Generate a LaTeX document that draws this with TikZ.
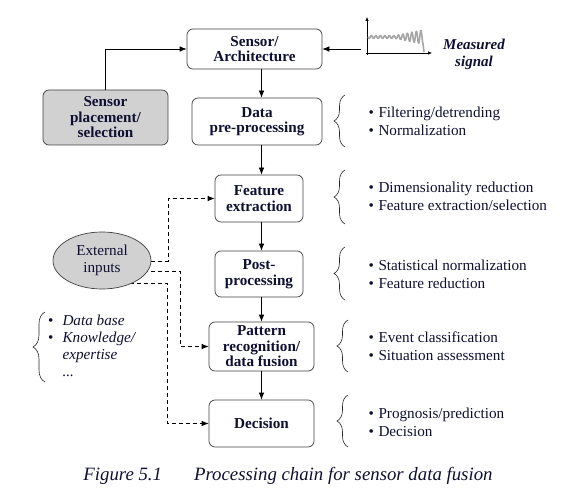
\documentclass[tikz,border=0pt]{standalone}
\usepackage{fontspec}
\setmainfont{Liberation Serif}
\usetikzlibrary{arrows.meta,decorations.pathreplacing,shapes.geometric,backgrounds}
\definecolor{ink}{rgb}{0.06,0.06,0.2}
\definecolor{boxgray}{rgb}{0.82,0.82,0.82}
\begin{document}
\begin{tikzpicture}[x=1pt,y=-1pt,
  box/.style={draw=black!75, line width=0.7pt, rounded corners=6pt, align=center,
    font=\fontsize{15.2}{15.5}\selectfont\bfseries, text=ink, inner sep=0pt},
  graybox/.style={box, fill=boxgray},
  arr/.style={-{Latex[length=7pt,width=5.5pt]}, line width=0.7pt},
  darr/.style={-{Latex[length=7pt,width=5.5pt]}, line width=0.7pt, dash pattern=on 4pt off 3pt},
  brc/.style={decorate, decoration={brace, amplitude=11pt}, line width=0.6pt, black!85},
  lst/.style={anchor=base west, inner sep=0pt, text=ink, font=\fontsize{15.2}{18}\selectfont},
  axis/.style={-{Latex[length=4pt,width=3.5pt]}, line width=0.6pt}
]
\useasboundingbox (0,0) rectangle (584,492);

% main chain
\node[box, minimum width=135pt, minimum height=40pt] (sa) at (254.5,49) {Sensor/\\Architecture};
\node[box, minimum width=130pt, minimum height=47pt] (dp) at (257,121.5) {Data\\pre-processing};
\node[box, minimum width=88pt, minimum height=47pt] (fe) at (259,198.5) {Feature\\extraction};
\node[box, minimum width=88pt, minimum height=46pt] (pp) at (259,274) {Post-\\processing};
\node[box, minimum width=105pt, minimum height=49pt] (pr) at (261.5,346.5) {Pattern\\recognition/\\data fusion};
\node[box, minimum width=105pt, minimum height=47pt] (dec) at (261.5,423.5) {Decision};

\node[graybox, minimum width=125pt, minimum height=55pt] (sp) at (105.5,117.5) {Sensor\\placement/\\selection};
\node[ellipse, draw=black!75, line width=0.7pt, fill=boxgray, minimum width=98pt, minimum height=57pt,
  inner sep=0pt, align=center, text=ink, font=\fontsize{15.2}{17}\selectfont] (ei) at (102,260.5) {External\\inputs};

\coordinate (ax) at (261.5,0);
\draw[arr] (sa.south -| ax) -- (dp.north -| ax);
\draw[arr] (dp.south -| ax) -- (fe.north -| ax);
\draw[arr] (fe.south -| ax) -- (pp.north -| ax);
\draw[arr] (pp.south -| ax) -- (pr.north -| ax);
\draw[arr] (pr.south -| ax) -- (dec.north -| ax);

\draw[arr] (sp.north) |- (sa.west);

% measured signal
\coordinate (sig) at (361,49);
\draw[arr] (sig) -- (sa.east);
\draw[axis] (367,55) -- (367,17);
\draw[axis] (366,53) -- (432,53);
\draw[gray!70, line width=1.6pt, line join=round]
  plot[domain=0:55, samples=220] ({368+\x},{37+(1.4+max(0,\x-27)*0.2)*sin(\x*80)})
  -- (424,52);
\node[font=\fontsize{15}{17}\selectfont\bfseries\itshape, align=center, text=ink] (ms) at (474,54) {Measured\\signal};

% dashed external inputs
\begin{pgfonlayer}{background}
\draw[darr] ([yshift=-0.5pt]ei.center) -- ++(66,0) |- (fe.west);
\draw[darr] ([yshift=-10.5pt]ei.center) -- ++(78,0) |- (pr.west);
\draw[darr] ([yshift=-22.5pt]ei.center) -- ++(65,0) |- (dec.west);
\end{pgfonlayer}

% braces and lists on right
\draw[brc] (345,147) -- (345,95);
\draw[brc] (345,224) -- (345,170);
\draw[brc] (345,300) -- (345,247);
\draw[brc] (348,372) -- (348,320);
\draw[brc] (348,447) -- (348,395);

\node[lst] (l1) at (368.5,118) {\begin{tabular}[t]{@{}l@{\hspace{4.5pt}}l@{}}\textbullet & Filtering/detrending\\ \textbullet & Normalization\end{tabular}};
\node[lst] (l2) at (368.5,193) {\begin{tabular}[t]{@{}l@{\hspace{4.5pt}}l@{}}\textbullet & Dimensionality reduction\\ \textbullet & Feature extraction/selection\end{tabular}};
\node[lst] (l3) at (368.5,270) {\begin{tabular}[t]{@{}l@{\hspace{4.5pt}}l@{}}\textbullet & Statistical normalization\\ \textbullet & Feature reduction\end{tabular}};
\node[lst] (l4) at (368.5,342) {\begin{tabular}[t]{@{}l@{\hspace{4.5pt}}l@{}}\textbullet & Event classification\\ \textbullet & Situation assessment\end{tabular}};
\node[lst] (l5) at (368.5,418) {\begin{tabular}[t]{@{}l@{\hspace{4.5pt}}l@{}}\textbullet & Prognosis/prediction\\ \textbullet & Decision\end{tabular}};

% left brace and list
\draw[brc, decoration={brace, amplitude=12pt}] (45,382) -- (45,312);
\node[lst, font=\fontsize{15.2}{17}\selectfont] (l0) at (48,325) {\begin{tabular}[t]{@{}l@{\hspace{9pt}}l@{}}\textbullet & \itshape Data base\\ \textbullet & \itshape Knowledge/\\ & \itshape expertise\\ & \itshape ...\end{tabular}};

% caption
\node[font=\fontsize{18.8}{22}\selectfont\itshape, text=ink] (cap) at (288,476) {Figure 5.1\hspace{1.7em}Processing chain for sensor data fusion};
\end{tikzpicture}
\end{document}
